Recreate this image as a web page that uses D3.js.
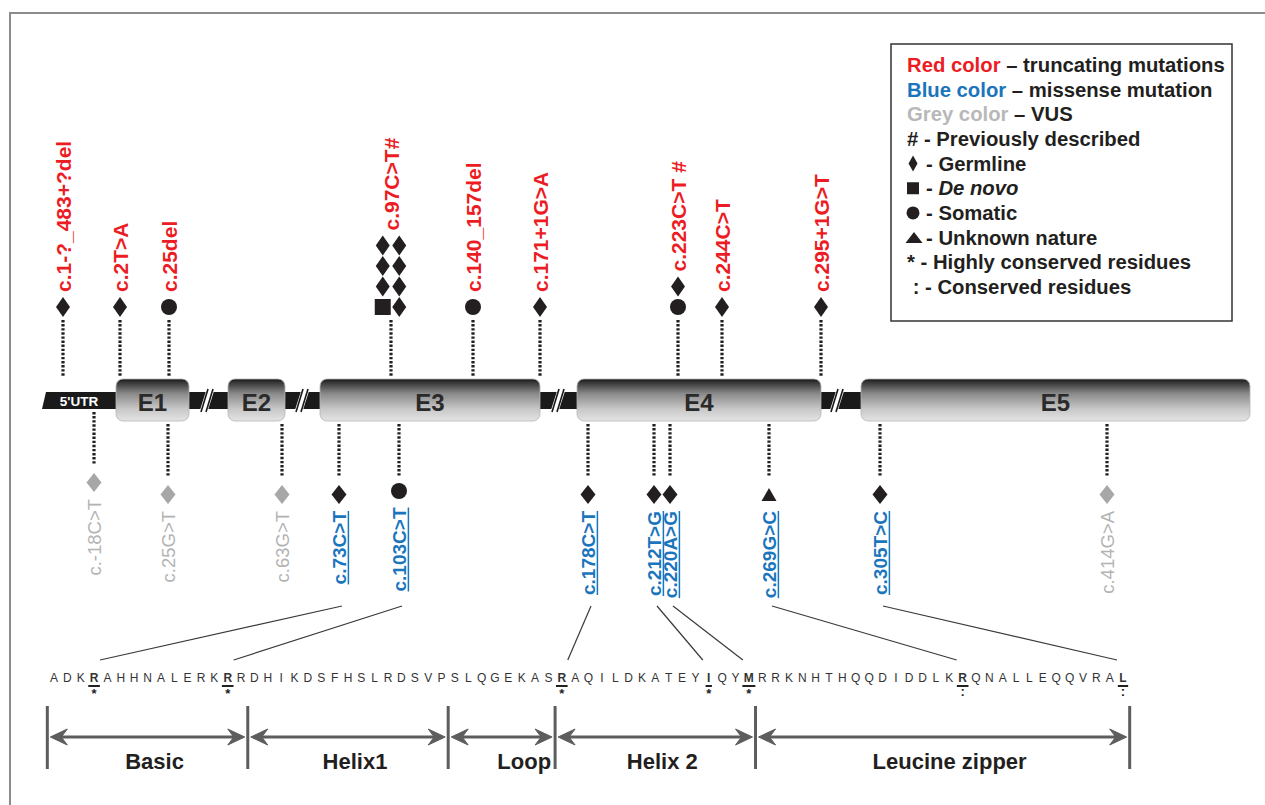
<!DOCTYPE html>
<html>
<head>
<meta charset="utf-8">
<script src="https://cdn.jsdelivr.net/npm/d3@7/dist/d3.min.js"></script>
<style>
html,body{margin:0;padding:0;background:#fff;}
svg{display:block;}
text{font-family:'Liberation Sans',Arial,Helvetica,sans-serif;white-space:pre;}
</style>
</head>
<body>
<svg id="chart" width="1265" height="805"></svg>
<script>
// ================= DATA =================
// gene track (diagram units along the schematic transcript)
const exonNames  = ["E1", "E2", "E3", "E4", "E5"];
const exonStart  = [7.6, 18.8, 28.0, 53.7, 82.1];
const exonEnd    = [14.9, 24.5, 50.0, 78.1, 121.0];
const utrStart   = 0.2;
const breakPos   = [16.7, 26.2, 51.8, 79.7];

// truncating mutations (above the gene)
const truncLabels = ["c.1-?_483+?del", "c.2T>A", "c.25del", "c.97C>T#", "c.140_157del",
                     "c.171+1G>A", "c.223C>T #", "c.244C>T", "c.295+1G>T"];
const truncPos    = [2.3, 8.0, 12.9, 35.1, 43.3, 50.0, 63.8, 68.2, 78.1];
// carriers per mutation: columns of stacked cases (bottom-up); G germline, D de novo, S somatic, U unknown
const truncCarriers = [
  [["G"]], [["G"]], [["S"]],
  [["D", "G", "G", "G"], ["G", "G", "G", "G"]],
  [["S"]], [["G"]], [["S", "G"]], [["G"]], [["G"]]
];

// missense mutations and VUS (below the gene)
const variantLabels = ["c.-18C>T", "c.25G>T", "c.63G>T", "c.73C>T", "c.103C>T", "c.178C>T",
                       "c.212T>G", "c.220A>G", "c.269G>C", "c.305T>C", "c.414G>A"];
const variantPos    = [5.4, 12.8, 24.2, 29.9, 35.9, 54.8, 61.4, 63.0, 72.9, 84.0, 106.7];
const variantClass  = ["VUS", "VUS", "VUS", "missense", "missense", "missense",
                       "missense", "missense", "missense", "missense", "VUS"];
const variantOrigin = ["G", "G", "G", "G", "S", "G", "G", "G", "U", "G", "G"];

// protein sequence (bHLH-Zip region)
const sequence = "ADKRAHHNALERKRRDHIKDSFHSLRDSVPSLQGEKASRAQILDKATEYIQYMRRKNHTHQQDIDDLKRQNALLEQQVRAL";
const highlyConserved = [3, 13, 38, 49, 52];
const conserved = [68, 80];

// links: missense variant -> affected residue index
const linkVariant = ["c.73C>T", "c.103C>T", "c.178C>T", "c.212T>G", "c.220A>G", "c.269G>C", "c.305T>C"];
const linkResidue = [3, 13, 38, 49, 52, 68, 80];

// domains (residue index ranges)
const domainNames = ["Basic", "Helix1", "Loop", "Helix 2", "Leucine zipper"];
const domainStart = [0, 15, 30, 38, 53];
const domainEnd   = [14, 29, 37, 52, 80];

// legend
const legendLines = [
  [{t: "Red color", k: "red"}, {t: " – truncating mutations"}],
  [{t: "Blue color", k: "blue"}, {t: " – missense mutation"}],
  [{t: "Grey color", k: "grey"}, {t: " – VUS"}],
  [{t: "# - Previously described"}],
  [{sym: "G"}, {t: "- Germline"}],
  [{sym: "D"}, {t: "- "}, {t: "De novo", it: true}],
  [{sym: "S"}, {t: "- Somatic"}],
  [{sym: "U"}, {t: "- Unknown nature"}],
  [{t: "* - Highly conserved residues"}],
  [{t: " : - Conserved residues"}]
];

// ================= STYLE =================
const C = {
  red: "#ec1c24", blue: "#1b75bc", grey: "#b3b3b3", greySym: "#a7a7a7",
  ink: "#231f20", frame: "#8c8c8c", domain: "#5d5d5d"
};

// ================= DRAW =================
const svg = d3.select("#chart");
const xT = d3.scaleLinear().domain([0, 121]).range([40, 1250]);   // gene track
const xR = d3.scaleLinear().domain([0, 80]).range([54, 1123]);    // residues

const bbTop = 392, bbBot = 409, exTop = 379, exBot = 421;

function shape(type, w, h) {
  if (type === "G") return `M0,${-h/2}L${w/2},0L0,${h/2}L${-w/2},0Z`;
  if (type === "D") return `M${-w/2},${-h/2}h${w}v${h}h${-w}Z`;
  if (type === "S") { const r = w/2; return `M${-r},0a${r},${r} 0 1,0 ${2*r},0a${r},${r} 0 1,0 ${-2*r},0Z`; }
  if (type === "U") return `M0,${-h/2}L${w/2},${h/2}L${-w/2},${h/2}Z`;
}
const symSize = {G: [14, 20], D: [16, 16], S: [16, 16], U: [15, 13]};

// frame
svg.append("path").attr("d", "M10,805 L10,13 L1265,13")
  .attr("fill", "none").attr("stroke", C.frame).attr("stroke-width", 2);

// gradient
const defs = svg.append("defs");
const grad = defs.append("linearGradient").attr("id", "exg")
  .attr("x1", 0).attr("y1", 0).attr("x2", 0).attr("y2", 1);
[[0, "#161616"], [0.08, "#363636"], [0.35, "#8a8a8a"], [0.7, "#c6c6c6"], [1, "#e4e4e4"]]
  .forEach(([o, c]) => grad.append("stop").attr("offset", o).attr("stop-color", c));

// backbone & UTR
const gTrack = svg.append("g");
gTrack.append("path")
  .attr("d", `M${xT(utrStart)},${bbBot}L${xT(utrStart)+4},${bbTop}L${xT(121)},${bbTop}L${xT(121)},${bbBot}Z`)
  .attr("fill", "#1a1a1a");
gTrack.append("text").attr("x", (xT(utrStart) + xT(exonStart[0])) / 2).attr("y", bbBot - 3.5)
  .attr("text-anchor", "middle").attr("fill", "#fff").attr("font-weight", "bold")
  .attr("font-size", 13.5).text("5'UTR");

// breaks
breakPos.forEach(b => {
  const cx = xT(b);
  gTrack.append("path")
    .attr("d", `M${cx-7},${bbBot+1}L${cx-1},${bbTop-1}L${cx+7},${bbTop-1}L${cx+1},${bbBot+1}Z`)
    .attr("fill", "#fff");
  [-2.5, 2.5].forEach(o => {
    gTrack.append("line")
      .attr("x1", cx + o - 3.5).attr("y1", bbBot + 3).attr("x2", cx + o + 3.5).attr("y2", bbTop - 3)
      .attr("stroke", "#1a1a1a").attr("stroke-width", 1.6);
  });
});

// exons
exonNames.forEach((n, i) => {
  const x0 = xT(exonStart[i]), x1 = xT(exonEnd[i]);
  gTrack.append("rect").attr("x", x0).attr("y", exTop).attr("width", x1 - x0).attr("height", exBot - exTop)
    .attr("rx", 7).attr("fill", "url(#exg)").attr("stroke", "#b5b5b5").attr("stroke-width", 0.8);
  gTrack.append("text").attr("x", (x0 + x1) / 2).attr("y", 411)
    .attr("text-anchor", "middle").attr("font-size", 24).attr("font-weight", "bold")
    .attr("fill", "#2a2a2a").text(n);
});

function dotted(g, x, y1, y2) {
  g.append("line").attr("x1", x).attr("x2", x).attr("y1", y1).attr("y2", y2)
    .attr("stroke", C.ink).attr("stroke-width", 3.2).attr("stroke-dasharray", "2.4,1.7");
}

// truncating mutations
const gTop = svg.append("g");
const rowBase = 307, rowStep = 20.5;
truncLabels.forEach((lab, i) => {
  const x = xT(truncPos[i]);
  const cols = truncCarriers[i];
  const nRows = d3.max(cols, c => c.length);
  dotted(gTop, x, 320, 376);
  cols.forEach((col, j) => {
    const cx = x + (j - (cols.length - 1) / 2) * 16.5;
    col.forEach((t, k) => {
      const [w, h] = symSize[t];
      gTop.append("path").attr("d", shape(t, w, h))
        .attr("transform", `translate(${cx},${rowBase - k * rowStep})`).attr("fill", C.ink);
    });
  });
  const topY = rowBase - (nRows - 1) * rowStep;
  gTop.append("text").attr("transform", `translate(${x + 7.5},${topY - 15}) rotate(-90)`)
    .attr("font-size", 21).attr("font-weight", "bold").attr("fill", C.red).text(lab);
});

// missense / VUS
const gBot = svg.append("g");
const varX = {};
variantLabels.forEach((lab, i) => {
  const x = xT(variantPos[i]);
  varX[lab] = x;
  const underExon = exonStart.some((s, k) => variantPos[i] >= s && variantPos[i] <= exonEnd[k]);
  const y1 = underExon ? exBot + 3 : bbBot + 3;
  const y2 = y1 + 53;
  dotted(gBot, x, y1, y2);
  const t = variantOrigin[i];
  const [w, h] = t === "G" ? [15, 19] : symSize[t];
  const cy = t === "S" ? y2 + 14 : y2 + 17.5;
  const isVUS = variantClass[i] === "VUS";
  gBot.append("path").attr("d", shape(t, w, h))
    .attr("transform", `translate(${x},${cy})`).attr("fill", isVUS ? C.greySym : C.ink);
  const ty = cy + 16.5;
  const txt = gBot.append("text").attr("transform", `translate(${x + 6.8},${ty}) rotate(-90)`)
    .attr("text-anchor", "end").attr("font-size", isVUS ? 18.5 : 19)
    .attr("font-weight", isVUS ? "normal" : "bold")
    .attr("fill", isVUS ? C.grey : C.blue).text(lab);
  if (!isVUS) {
    const len = txt.node().getComputedTextLength();
    gBot.append("line").attr("transform", `translate(${x + 6.8},${ty}) rotate(-90)`)
      .attr("x1", -len).attr("x2", 0).attr("y1", 2.6).attr("y2", 2.6)
      .attr("stroke", C.blue).attr("stroke-width", 1.5);
  }
});

// links from variants to residues
const gLinks = svg.append("g");
linkVariant.forEach((v, i) => {
  const sx = varX[v] + 3, rx = xR(linkResidue[i]);
  const ex = rx + 6 * Math.sign(sx - rx);
  gLinks.append("line").attr("x1", sx).attr("y1", 606).attr("x2", ex).attr("y2", 660)
    .attr("stroke", "#3a3a3a").attr("stroke-width", 1.2);
});

// sequence
const gSeq = svg.append("g");
sequence.split("").forEach((aa, i) => {
  const x = xR(i);
  const hi = highlyConserved.includes(i), co = conserved.includes(i);
  const t = gSeq.append("text").attr("x", x).attr("y", 682).attr("text-anchor", "middle")
    .attr("font-size", 12).attr("fill", "#333")
    .attr("font-weight", (hi || co) ? "bold" : "normal").text(aa);
  if (hi || co) {
    const w = t.node().getComputedTextLength() + 3;
    gSeq.append("line").attr("x1", x - w / 2).attr("x2", x + w / 2).attr("y1", 686).attr("y2", 686)
      .attr("stroke", "#222").attr("stroke-width", 2);
    gSeq.append("text").attr("x", x).attr("y", hi ? 698 : 696).attr("text-anchor", "middle")
      .attr("font-size", 13).attr("font-weight", "bold").attr("fill", "#222").text(hi ? "*" : ":");
  }
});

// domains
const gDom = svg.append("g");
const bounds = [domainStart[0] - 0.5].concat(domainEnd.map(e => e + 0.5));
bounds.forEach(b => {
  gDom.append("line").attr("x1", xR(b)).attr("x2", xR(b)).attr("y1", 706).attr("y2", 769)
    .attr("stroke", C.domain).attr("stroke-width", 3);
});
const ay = 737;
function arrowHead(tx, dir) {
  return `M${tx},${ay}L${tx + dir*17},${ay - 8}L${tx + dir*11},${ay}L${tx + dir*17},${ay + 8}Z`;
}
domainNames.forEach((n, i) => {
  const a = xR(domainStart[i] - 0.5) + 3, b = xR(domainEnd[i] + 0.5) - 3;
  gDom.append("line").attr("x1", a + 8).attr("x2", b - 8).attr("y1", ay).attr("y2", ay)
    .attr("stroke", C.domain).attr("stroke-width", 3);
  gDom.append("path").attr("d", arrowHead(a, 1)).attr("fill", C.domain)
    .attr("stroke", C.domain).attr("stroke-width", 1).attr("stroke-linejoin", "round");
  gDom.append("path").attr("d", arrowHead(b, -1)).attr("fill", C.domain)
    .attr("stroke", C.domain).attr("stroke-width", 1).attr("stroke-linejoin", "round");
  const narrow = (b - a) < 120;
  gDom.append("text")
    .attr("x", narrow ? b - 1 : (a + b) / 2 + 7).attr("y", 769)
    .attr("text-anchor", narrow ? "end" : "middle")
    .attr("font-size", 22).attr("font-weight", "bold").attr("fill", C.ink).text(n);
});

// legend
const gLeg = svg.append("g");
gLeg.append("rect").attr("x", 891).attr("y", 44).attr("width", 341).attr("height", 277)
  .attr("fill", "#fff").attr("stroke", "#333").attr("stroke-width", 1.5);
const colorOf = {red: C.red, blue: C.blue, grey: "#b8b8b8"};
const legSym = {G: [9, 16], D: [12, 12], S: [13, 13], U: [17, 11]};
legendLines.forEach((line, i) => {
  const base = 72 + i * 24.65;
  const hasSym = line[0].sym;
  if (hasSym) {
    const t = line[0].sym;
    const [w, h] = legSym[t];
    gLeg.append("path").attr("d", shape(t, w, h))
      .attr("transform", `translate(${t === "U" ? 914 : 913},${base - 7})`).attr("fill", C.ink);
  }
  const txt = gLeg.append("text").attr("x", hasSym ? 926 : 907).attr("y", base)
    .attr("font-size", 20.3).attr("font-weight", "bold").attr("fill", C.ink);
  line.filter(p => p.t !== undefined).forEach(p => {
    txt.append("tspan").attr("fill", p.k ? colorOf[p.k] : C.ink)
      .attr("font-style", p.it ? "italic" : "normal").text(p.t);
  });
});
</script>
</body>
</html>
